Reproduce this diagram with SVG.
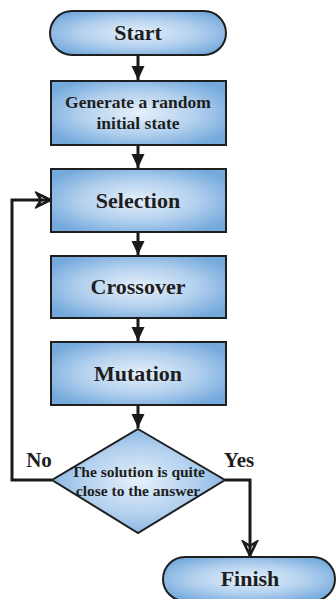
<svg xmlns="http://www.w3.org/2000/svg" width="336" height="599" viewBox="0 0 336 599">
  <defs>
    <radialGradient id="fill" cx="50%" cy="50%" r="60%">
      <stop offset="0" stop-color="#e6f0fa"/>
      <stop offset="0.55" stop-color="#b2d0ee"/>
      <stop offset="1" stop-color="#74a9dc"/>
    </radialGradient>
    <marker id="solid" markerWidth="16" markerHeight="16" viewBox="0 0 16 16" refX="14" refY="8" orient="auto" markerUnits="userSpaceOnUse">
      <path d="M0,1.5 L14,8 L0,14.5 Z" fill="#1a1a1a"/>
    </marker>
    <marker id="open" markerWidth="18" markerHeight="18" viewBox="0 0 18 18" refX="16" refY="9" orient="auto" markerUnits="userSpaceOnUse">
      <path d="M15.5,9 L2,2.5 L6,9 L2,15.5 Z" fill="none" stroke="#1a1a1a" stroke-width="2.6" stroke-linejoin="miter"/>
    </marker>
  </defs>
  <style>
    .shape { fill: url(#fill); stroke: #1f1f1f; stroke-width: 2; }
    .lbl { font-family: 'Liberation Serif', 'Times New Roman', serif; font-weight: bold; fill: #1e1e1e; text-anchor: middle; }
    .big { font-size: 22px; }
    .mid { font-size: 17.5px; }
    .small { font-size: 15.5px; }
    .tag { font-size: 21px; }
    .wire { fill: none; stroke: #1a1a1a; stroke-width: 3; }
  </style>

  <g id="connectors">
    <line class="wire" x1="138" y1="56" x2="138" y2="80" marker-end="url(#solid)"/>
    <line class="wire" x1="138" y1="146" x2="138" y2="168" marker-end="url(#solid)"/>
    <line class="wire" x1="138" y1="233" x2="138" y2="255" marker-end="url(#solid)"/>
    <line class="wire" x1="138" y1="319" x2="138" y2="341" marker-end="url(#solid)"/>
    <line class="wire" x1="138" y1="406" x2="138" y2="428" marker-end="url(#solid)"/>
    <polyline class="wire" points="52,480 12,480 12,200 51,200" marker-end="url(#open)"/>
    <polyline class="wire" points="225,480 250,480 250,556" marker-end="url(#open)"/>
    <text class="lbl tag" x="39" y="467">No</text>
    <text class="lbl tag" x="239" y="467">Yes</text>
  </g>

  <g id="start">
    <rect class="shape" x="50" y="11" width="176" height="44" rx="22" ry="22"/>
    <text class="lbl big" x="138" y="40">Start</text>
  </g>

  <g id="init">
    <rect class="shape" x="51" y="81" width="175" height="64"/>
    <text class="lbl mid" x="138" y="108">Generate a random</text>
    <text class="lbl mid" x="138" y="129">initial state</text>
  </g>

  <g id="selection">
    <rect class="shape" x="51" y="169" width="175" height="63"/>
    <text class="lbl big" x="138" y="208">Selection</text>
  </g>

  <g id="crossover">
    <rect class="shape" x="51" y="256" width="175" height="62"/>
    <text class="lbl big" x="138" y="294">Crossover</text>
  </g>

  <g id="mutation">
    <rect class="shape" x="51" y="342" width="175" height="63"/>
    <text class="lbl big" x="138" y="381">Mutation</text>
  </g>

  <g id="decision">
    <polygon class="shape" points="138,429 225,480 138,533 52,480"/>
    <text class="lbl small" x="138" y="477">The solution is quite</text>
    <text class="lbl small" x="138" y="496">close to the answer</text>
  </g>

  <g id="finish">
    <rect class="shape" x="163" y="557" width="172" height="44" rx="22" ry="22"/>
    <text class="lbl big" x="250" y="586">Finish</text>
  </g>
</svg>
